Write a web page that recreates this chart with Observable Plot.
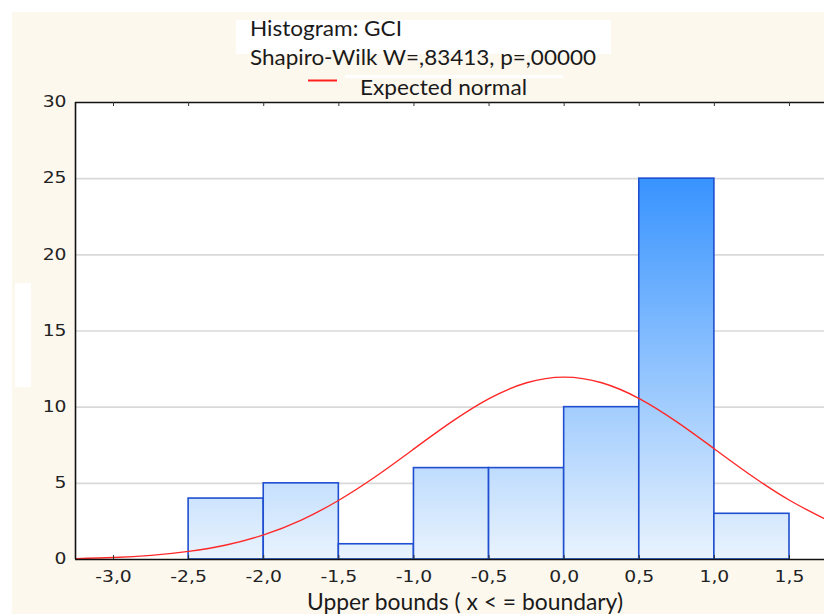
<!DOCTYPE html>
<html>
<head>
<meta charset="utf-8">
<script src="https://cdn.jsdelivr.net/npm/d3@7"></script>
<script src="https://cdn.jsdelivr.net/npm/@observablehq/plot@0.6"></script>
<style>
  html, body { margin: 0; padding: 0; background: #ffffff; }
  #wrap { position: relative; width: 824px; height: 614px; overflow: hidden; }
  .bg { position: absolute; left: 12px; top: 12px; width: 812px; height: 602px; background: #fdf8ee; }
  .wbox { position: absolute; background: #ffffff; }
  #chart { position: absolute; left: 0; top: 0; }
  #over { position: absolute; left: 0; top: 0; pointer-events: none; }
</style>
</head>
<body>
<div id="wrap">
  <div class="bg"></div>
  <div class="wbox" style="left:236px;top:20px;width:375px;height:34px;"></div>
  <div class="wbox" style="left:345px;top:75px;width:218px;height:3px;"></div>
  <div class="wbox" style="left:15px;top:283px;width:16px;height:104px;"></div>
  <div id="chart"></div>
  <svg id="over" width="824" height="614"></svg>
</div>
<script>
// Histogram bins (upper bounds, x <= boundary)
const binLower = [-2.5, -2.0, -1.5, -1.0, -0.5, 0.0, 0.5, 1.0];
const binUpper = [-2.0, -1.5, -1.0, -0.5, 0.0, 0.5, 1.0, 1.5];
const counts   = [4, 5, 1, 6, 6, 10, 25, 3];

// Expected normal curve
const curveX = [-3.25, -3.0, -2.75, -2.5, -2.25, -2.0, -1.75, -1.5, -1.25, -1.0, -0.75, -0.5, -0.25, 0.0, 0.25, 0.5, 0.75, 1.0, 1.25, 1.5, 1.75];
const curveY = [0.06, 0.13, 0.27, 0.53, 0.95, 1.62, 2.59, 3.89, 5.48, 7.26, 9.03, 10.56, 11.6, 11.97, 11.6, 10.56, 9.03, 7.26, 5.48, 3.89, 2.59];

const xTicks = [-3.0, -2.5, -2.0, -1.5, -1.0, -0.5, 0.0, 0.5, 1.0, 1.5];
const yTicks = [0, 5, 10, 15, 20, 25, 30];
const yGrid  = [5, 10, 15, 20, 25];

const titleText = "Histogram: GCI";
const subtitleText = "Shapiro-Wilk W=,83413, p=,00000";
const legendText = "Expected normal";
const xLabelText = "Upper bounds ( x < = boundary)";

const bars = binLower.map((lo, i) => ({lo, hi: binUpper[i], n: counts[i]}));
const curve = curveX.map((x, i) => ({x, y: curveY[i]}));

const fmt = d => d.toFixed(1).replace(".", ",");

const chart = Plot.plot({
  width: 824,
  height: 614,
  marginLeft: 75,
  marginRight: 0,
  marginTop: 102,
  marginBottom: 55,
  style: {background: "transparent", fontFamily: "DejaVu Sans, sans-serif"},
  x: {domain: [-3.253, 1.733], label: null},
  y: {domain: [0, 30], label: null},
  marks: [
    Plot.frame({fill: "#ffffff", stroke: "none"}),
    Plot.ruleY(yGrid, {stroke: "#d9d9d9", strokeWidth: 1.6}),
    Plot.rectY(bars, {x1: "lo", x2: "hi", y: "n", fill: "url(#barGrad)", stroke: "#1f4fd0", strokeWidth: 1.6}),
    Plot.line(curve, {x: "x", y: "y", stroke: "#ff2828", strokeWidth: 1.4, curve: "natural"}),
    Plot.ruleY([0, 30], {stroke: "#111", strokeWidth: 1.6}),
    Plot.ruleX([-3.253], {stroke: "#111", strokeWidth: 1.6}),
    Plot.ruleX(xTicks, {y1: 0, y2: 0, insetTop: -4, stroke: "#333"}),
    Plot.ruleX(xTicks, {y1: 30, y2: 30, insetBottom: -4, stroke: "#333"}),
    Plot.axisY(yTicks, {tickSize: 0, tickPadding: 9, fontSize: 15, color: "#222", label: null, tickFormat: d => String(d)}),
    Plot.axisX(xTicks, {tickSize: 0, tickPadding: 12, fontSize: 15, color: "#222", label: null, tickFormat: fmt})
  ]
});

// vertical gradient in user space over the plot area
const ys = chart.scale("y");
const svg = d3.select(chart);
const defs = svg.insert("defs", ":first-child");
const g = defs.append("linearGradient")
  .attr("id", "barGrad")
  .attr("gradientUnits", "userSpaceOnUse")
  .attr("x1", 0).attr("x2", 0)
  .attr("y1", ys.apply(30)).attr("y2", ys.apply(0));
g.append("stop").attr("offset", "0%").attr("stop-color", "#1480ff");
g.append("stop").attr("offset", "100%").attr("stop-color", "#e9f3fd");

document.getElementById("chart").appendChild(chart);

// reference tick glyphs are wide: stretch them horizontally
svg.selectAll("text").each(function() {
  const w = this.getComputedTextLength();
  if (w > 0) d3.select(this).attr("textLength", w * 1.25).attr("lengthAdjust", "spacingAndGlyphs");
});

// titles, legend, axis title
const over = d3.select("#over");
function addText(str, x, y, size, width) {
  const t = over.append("text")
    .attr("x", x).attr("y", y)
    .attr("font-family", "Lato, 'Open Sans', sans-serif")
    .attr("font-size", size)
    .attr("fill", "#1a1a1a")
    .text(str);
  t.attr("textLength", width).attr("lengthAdjust", "spacingAndGlyphs");
  return t;
}
addText(titleText, 250, 35.5, 21.5, 152);
addText(subtitleText, 250, 65, 21.5, 346);
addText(legendText, 360, 95, 21.5, 167);
addText(xLabelText, 307, 610, 22.5, 316);
over.append("line")
  .attr("x1", 308).attr("x2", 337).attr("y1", 80.5).attr("y2", 80.5)
  .attr("stroke", "#ff2020").attr("stroke-width", 2);
</script>
</body>
</html>
